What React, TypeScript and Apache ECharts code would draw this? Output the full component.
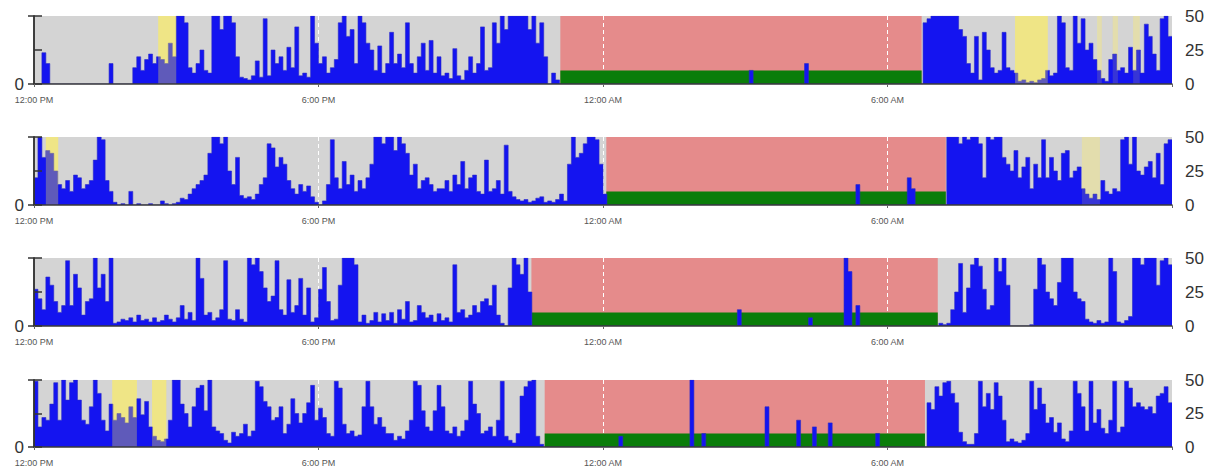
import React, { useEffect, useRef } from 'react';
import * as echarts from 'echarts';

// 5-minute activity bins, 12:00 PM -> 12:00 PM next day (12 values per hour)
const activity1 = [
  0,0,23,15,0,0,0,0,0,0,0,0,
  0,0,0,0,0,0,0,15,0,0,0,0,
  0,12,20,10,18,22,15,20,18,15,30,20,
  50,50,45,12,8,15,25,10,8,50,50,40,
  50,50,45,20,5,4,3,6,17,5,48,6,
  25,15,20,10,27,12,42,6,8,5,50,30,
  15,20,8,12,18,45,50,35,40,15,50,45,
  30,25,10,28,8,15,38,15,22,12,45,15,
  8,20,30,10,32,8,20,6,8,4,26,6,
  3,10,20,8,15,42,10,12,45,30,50,40,
  50,50,50,50,50,40,50,30,45,20,0,8,
  3,0,0,0,0,0,0,0,0,0,0,0,
  0,0,0,0,0,0,0,0,0,0,0,0,
  0,0,0,0,0,0,0,0,0,0,0,0,
  0,0,0,0,0,0,0,0,0,0,0,0,
  0,10,0,0,0,0,0,0,0,0,0,0,
  0,0,0,15,0,0,0,0,0,0,0,0,
  0,0,0,0,0,0,0,0,0,0,0,0,
  0,0,0,0,0,0,0,0,0,45,48,50,
  50,50,50,50,50,50,40,35,15,8,35,3,
  38,25,12,8,10,38,12,10,8,2,3,1,
  2,1,3,4,10,6,8,50,45,12,10,50,
  30,48,25,30,18,10,4,2,18,22,10,12,
  8,27,10,25,8,44,35,22,10,48,50,35,
];

const activity2 = [
  20,50,35,40,38,25,15,12,18,10,22,20,
  12,15,18,33,50,48,18,10,2,0,1,0,
  10,0,1,0,0,1,0,0,3,1,0,1,
  2,5,4,8,12,15,18,22,38,50,50,45,
  50,25,15,35,7,5,6,4,8,15,20,45,
  42,28,35,30,18,12,8,15,10,14,6,2,
  0,3,15,48,20,12,32,15,22,10,18,12,
  20,30,50,50,45,50,50,40,50,45,38,22,
  30,12,18,20,15,10,12,12,18,10,22,15,
  32,12,20,22,10,8,33,10,12,18,8,44,
  10,6,4,3,4,2,3,5,6,2,3,2,
  4,8,3,30,50,35,38,45,50,50,48,30,
  8,0,0,0,0,0,0,0,0,0,0,0,
  0,0,0,0,0,0,0,0,0,0,0,0,
  0,0,0,0,0,0,0,0,0,0,0,0,
  0,0,0,0,0,0,0,0,0,0,0,0,
  0,0,0,0,0,0,0,0,0,0,0,0,
  0,0,0,0,15,0,0,0,0,0,0,0,
  0,0,0,0,0,20,12,0,0,0,0,0,
  0,0,0,50,50,50,45,50,48,50,50,45,
  20,50,48,50,50,35,30,25,40,20,28,35,
  12,30,20,48,20,35,25,18,38,40,20,25,
  28,12,8,5,8,4,18,10,8,12,10,48,
  50,30,50,25,22,28,32,20,38,15,45,48,
];

const activity3 = [
  27,20,12,36,30,18,10,15,48,15,38,28,
  8,18,20,50,28,38,18,50,2,3,5,4,
  6,3,8,4,5,3,6,3,4,8,5,3,
  6,15,5,10,4,50,35,8,10,4,6,12,
  48,5,4,12,5,3,50,45,50,40,28,18,
  22,48,12,8,34,10,15,35,8,28,3,6,
  27,43,18,4,5,30,50,50,50,45,3,8,
  2,4,10,3,9,4,10,2,12,5,18,3,
  4,15,10,6,8,3,9,4,6,3,45,10,
  12,6,8,15,10,18,20,15,30,8,2,0,
  28,50,45,38,50,25,0,0,0,0,0,0,
  0,0,0,0,0,0,0,0,0,0,0,0,
  0,0,0,0,0,0,0,0,0,0,0,0,
  0,0,0,0,0,0,0,0,0,0,0,0,
  0,0,0,0,0,0,0,0,0,0,12,0,
  0,0,0,0,0,0,0,0,0,0,0,0,
  0,0,0,0,6,0,0,0,0,0,0,0,
  0,50,40,0,15,0,0,0,0,0,0,0,
  0,0,0,0,0,0,0,0,0,0,0,0,
  0,2,1,2,12,25,46,10,28,45,50,44,
  27,12,15,50,40,50,30,0,0,0,0,0,
  1,27,50,45,25,20,15,32,50,50,50,25,
  20,18,5,3,2,4,2,3,50,40,3,2,
  4,7,50,50,45,50,50,50,30,48,50,45,
];

const activity4 = [
  49,15,22,20,32,48,20,50,35,48,50,35,
  20,17,30,50,40,20,12,32,20,25,22,18,
  30,22,36,24,34,15,8,5,4,6,20,50,
  50,32,25,15,30,44,46,27,50,15,12,10,
  5,3,11,8,10,17,8,12,49,45,34,30,
  20,22,30,10,17,36,25,18,25,33,46,20,
  29,22,10,8,49,44,17,10,12,8,9,30,
  49,30,17,22,15,10,10,5,8,6,12,20,
  49,46,27,15,12,27,46,30,12,10,15,8,
  12,20,49,32,25,10,12,15,8,20,49,8,
  5,3,10,38,45,49,50,8,2,0,0,0,
  0,0,0,0,0,0,0,0,0,0,0,0,
  0,0,0,0,8,0,0,0,0,0,0,0,
  0,0,0,0,0,0,0,0,0,0,50,0,
  0,10,0,0,0,0,0,0,0,0,0,0,
  0,0,0,0,0,30,0,0,0,0,0,0,
  0,20,0,0,0,15,0,0,0,18,0,0,
  0,0,0,0,0,0,0,0,0,10,0,0,
  0,0,0,0,0,0,0,0,0,0,33,28,
  45,38,48,49,40,33,11,4,2,2,10,49,
  30,40,28,48,38,20,4,6,4,3,5,10,
  49,28,44,32,18,22,11,18,6,4,12,49,
  40,30,12,49,18,28,14,10,20,49,11,15,
  49,44,30,33,30,28,30,25,38,40,45,33,
];

// sleep windows (hours after 12:00 PM) and the constant sleep level
const sleep1 = [11.1, 18.72];
const sleep2 = [12.07, 19.23];
const sleep3 = [10.49, 19.06];
const sleep4 = [10.77, 18.79];
const sleepLevel = 10;

// yellow highlighted windows (hours), strong and faint
const naps1 = [[2.62, 3.0], [20.69, 21.38]];
const faint1 = [[22.42, 22.52], [22.75, 22.86], [23.18, 23.32]];
const naps2 = [[0.25, 0.51]];
const faint2 = [[22.1, 22.48]];
const naps3: number[][] = [];
const faint3: number[][] = [];
const naps4 = [[1.65, 2.17], [2.49, 2.79]];
const faint4: number[][] = [];

const xTickLabels = ['12:00 PM', '6:00 PM', '12:00 AM', '6:00 AM', ''];
const yTicks = [0, 25, 50];

const panels = [
  { act: activity1, sleep: sleep1, naps: naps1, faint: faint1 },
  { act: activity2, sleep: sleep2, naps: naps2, faint: faint2 },
  { act: activity3, sleep: sleep3, naps: naps3, faint: faint3 },
  { act: activity4, sleep: sleep4, naps: naps4, faint: faint4 },
];

const tops = [16, 137, 258, 380];
const FONT = 'Liberation Sans, Arial, sans-serif';

function buildOption() {
  const grid: any[] = [];
  const xAxis: any[] = [];
  const yAxis: any[] = [];
  const series: any[] = [];
  panels.forEach((p, i) => {
    grid.push({ left: 34, right: 44, top: tops[i], height: 68, show: true, backgroundColor: '#d4d4d4', borderWidth: 0 });
    xAxis.push({
      type: 'value', gridIndex: i, position: 'bottom', min: 0, max: 24, interval: 6, z: 2,
      axisLine: { show: false }, axisTick: { show: false }, axisLabel: { show: false },
      splitLine: { show: true, showMinLine: false, showMaxLine: false, lineStyle: { color: '#ffffff', type: [4, 3], width: 1 } },
    });
    xAxis.push({
      type: 'value', gridIndex: i, position: 'bottom', min: 0, max: 24, interval: 6, z: 10,
      axisLine: { show: true, onZero: false, lineStyle: { color: '#3a3a3a', width: 1.5 } },
      axisTick: { show: true, length: 3, lineStyle: { color: '#666' } },
      axisLabel: { margin: 11, fontSize: 9, lineHeight: 10, color: '#555', fontFamily: FONT, formatter: (v: number) => xTickLabels[Math.round(v / 6)] ?? '' },
      splitLine: { show: false },
    });
    yAxis.push({
      type: 'value', gridIndex: i, position: 'right', min: yTicks[0], max: yTicks[2], interval: 25, z: 10,
      axisLine: { show: true, lineStyle: { color: '#333', width: 1.5 } },
      axisTick: { show: true, length: 8, lineStyle: { color: '#333', width: 1.5 } },
      axisLabel: { margin: 13, fontSize: 17, lineHeight: 15, color: '#333', fontFamily: FONT },
      splitLine: { show: false },
    });
    yAxis.push({
      type: 'value', gridIndex: i, position: 'left', min: 0, max: 50, interval: 50, z: 10,
      axisLine: { show: true, lineStyle: { color: '#333', width: 1.5 } },
      axisTick: { show: true, length: 6, lineStyle: { color: '#333', width: 1.5 } },
      axisLabel: { margin: 10, fontSize: 17, lineHeight: 13, color: '#333', fontFamily: FONT, formatter: (v: number) => (v === 0 ? '0' : '') },
      splitLine: { show: false },
    });
    const xi = i * 2;
    const yi = i * 2;
    const bgAreas: any[] = [[{ xAxis: p.sleep[0], itemStyle: { color: '#e58b8b' } }, { xAxis: p.sleep[1] }]];
    p.naps.forEach(([a, b]) => bgAreas.push([{ xAxis: a, itemStyle: { color: '#e8e1a4' } }, { xAxis: b }]));
    p.faint.forEach(([a, b]) => bgAreas.push([{ xAxis: a, itemStyle: { color: '#dedac0' } }, { xAxis: b }]));
    series.push({
      type: 'line', xAxisIndex: xi, yAxisIndex: yi, z: 1, silent: true, symbol: 'none',
      data: [[0, 0], [24, 0]], lineStyle: { opacity: 0 },
      markArea: { z: 1, silent: true, data: bgAreas },
    });
    series.push({
      type: 'line', xAxisIndex: xi, yAxisIndex: yi, z: 3, silent: true, symbol: 'none',
      data: [[p.sleep[0], sleepLevel], [p.sleep[1], sleepLevel]],
      lineStyle: { width: 0 }, areaStyle: { color: '#0a7d0a', opacity: 1 },
    });
    const steps = p.act.map((v, k) => [k / 12, v]);
    steps.push([24, p.act[p.act.length - 1]]);
    series.push({
      type: 'line', xAxisIndex: xi, yAxisIndex: yi, z: 4, silent: true, symbol: 'none', step: 'end',
      data: steps, lineStyle: { width: 0.6, color: '#2a2ac8' }, areaStyle: { color: '#1414f0', opacity: 1 },
    });
    const overlay = [
      ...p.naps.map(([a, b]) => [{ xAxis: a, itemStyle: { color: 'rgba(255,240,70,0.32)' } }, { xAxis: b }]),
      ...p.faint.map(([a, b]) => [{ xAxis: a, itemStyle: { color: 'rgba(255,240,70,0.15)' } }, { xAxis: b }]),
    ];
    series.push({
      type: 'line', xAxisIndex: xi, yAxisIndex: yi, z: 5, silent: true, symbol: 'none',
      data: [[0, 0], [24, 0]], lineStyle: { opacity: 0 },
      markArea: { z: 5, silent: true, data: overlay },
    });
  });
  return { animation: false, grid, xAxis, yAxis, series, textStyle: { fontFamily: FONT } };
}

export default function App() {
  const ref = useRef<HTMLDivElement>(null);
  useEffect(() => {
    document.body.style.margin = '0';
    const chart = echarts.init(ref.current!, undefined, { renderer: 'svg' });
    chart.setOption(buildOption() as any);
    return () => chart.dispose();
  }, []);
  return <div ref={ref} style={{ width: 1216, height: 468 }} />;
}
